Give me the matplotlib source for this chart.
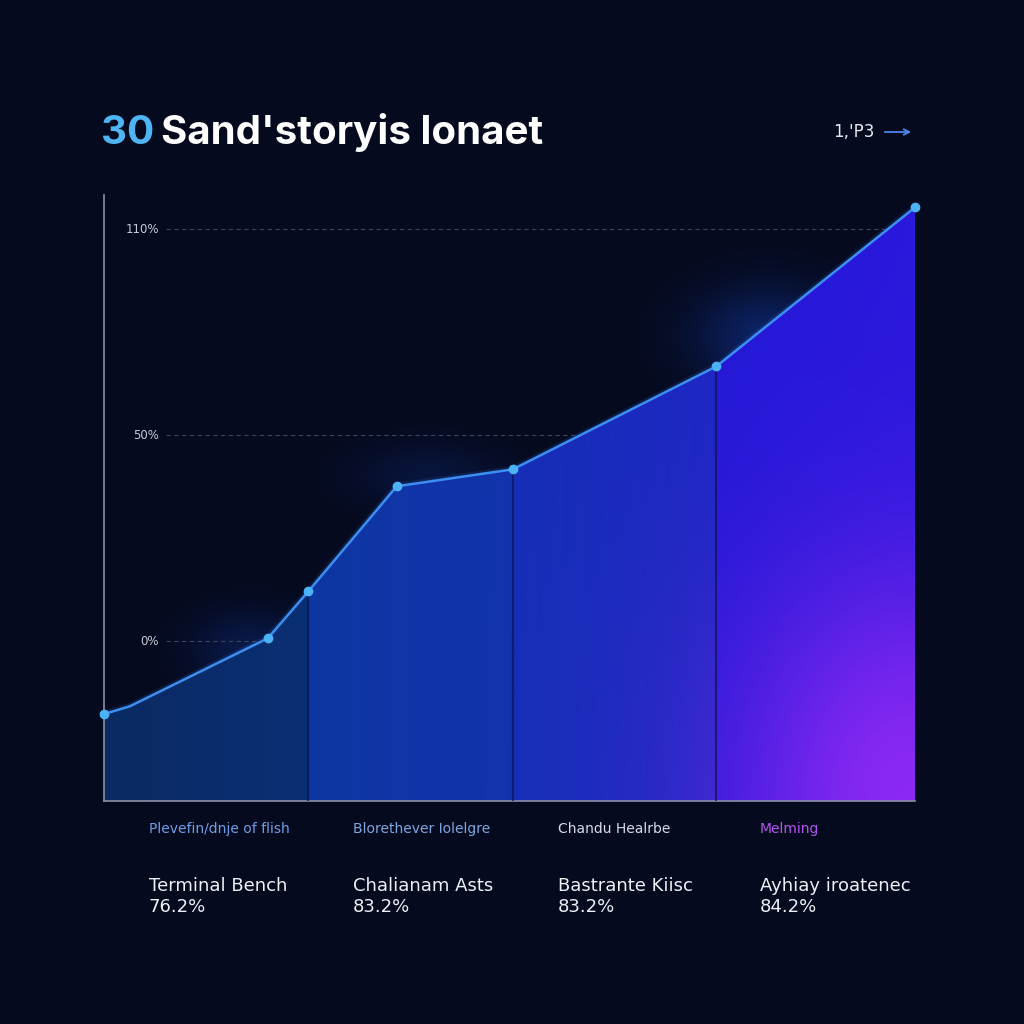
import numpy as np
import matplotlib.pyplot as plt
from matplotlib.colors import to_rgb
from matplotlib.patches import Polygon

# --- Data ---
x_vals = [0, 3.2, 20.2, 25.2, 36.1, 50.4, 75.5, 100]
y_vals = [-17.7, -15.8, 0.7, 12.1, 37.6, 41.7, 66.7, 105.3]
marker_idx = [0, 2, 3, 4, 5, 6, 7]
dividers = [25.2, 50.4, 75.5]

ytick_pos = [0, 50, 100]
ytick_labels = ["0%", "50%", "110%"]

title_num = "30"
title_rest = "Sand'storyis lonaet"
corner_text = "1,'P3"

categories = ["Plevefin/dnje of flish", "Blorethever Iolelgre", "Chandu Healrbe", "Melming"]
cat_colors = ["#6f9ee6", "#7fa6e0", "#d8dbe6", "#b455ee"]
names = ["Terminal Bench", "Chalianam Asts", "Bastrante Kiisc", "Ayhiay iroatenec"]
scores = ["76.2%", "83.2%", "83.2%", "84.2%"]

BG = "#050a1e"
YMIN, YMAX = -38.8, 108.3

fig = plt.figure(figsize=(10.24, 10.24), dpi=100, facecolor=BG)
ax = fig.add_axes([104 / 1024, 1 - 801 / 1024, 811 / 1024, 606 / 1024])
ax.set_facecolor(BG)
ax.set_xlim(0, 100)
ax.set_ylim(YMIN, YMAX)

nx, ny = 600, 400
gx = np.linspace(0, 100, nx)
gy = np.linspace(YMIN, YMAX, ny)
XX, YY = np.meshgrid(gx, gy)

# soft blue halo behind the curve
halo = np.zeros((ny, nx, 4))
halo[..., :3] = to_rgb("#1a50e8")
ha = 0.35 * np.exp(-(((XX - 82) / 9) ** 2 + ((YY - 74) / 12) ** 2))
ha += 0.22 * np.exp(-(((XX - 18) / 7) ** 2 + ((YY + 2) / 9) ** 2))
ha += 0.15 * np.exp(-(((XX - 40) / 9) ** 2 + ((YY - 40) / 8) ** 2))
halo[..., 3] = np.clip(ha, 0, 1)
ax.imshow(halo, extent=[0, 100, YMIN, YMAX], origin="lower", aspect="auto", zorder=0.5)

# --- gradient fill under the curve ---
stops = [(0, "#0a2a62"), (25.1, "#0b2f74"), (25.3, "#0e37a2"), (50.3, "#1233ac"),
         (50.5, "#162fb6"), (75.4, "#1d27c4"), (75.6, "#2419d6"), (100, "#2a18dc")]
sx = np.array([s[0] for s in stops])
sc = np.array([to_rgb(s[1]) for s in stops])
base = np.stack([np.interp(gx, sx, sc[:, k]) for k in range(3)], axis=-1)
img = np.repeat(base[None, :, :], ny, axis=0)
d = np.sqrt(((XX - 100) / 24) ** 2 + ((YY - YMIN) / 60) ** 2)
w = np.exp(-d ** 2 * 1.1)[..., None] * 0.85
purple = np.array(to_rgb("#9d2cf8"))
img = img * (1 - w) + purple * w

im = ax.imshow(img, extent=[0, 100, YMIN, YMAX], origin="lower", aspect="auto", zorder=2)
poly = Polygon(list(zip(x_vals, y_vals)) + [(100, YMIN), (0, YMIN)], closed=True,
               facecolor="none", edgecolor="none")
ax.add_patch(poly)
im.set_clip_path(poly)

# dividers
for xd in dividers:
    ax.vlines(xd, YMIN, np.interp(xd, x_vals, y_vals), color="#0a1650", lw=1.5, alpha=0.7, zorder=3)

# gridlines (hidden behind the fill)
for yp in ytick_pos:
    ax.hlines(yp, 7.6, 100, color="#3c4258", lw=0.8, linestyles=(0, (4, 3)), zorder=1)
for yp, lab in zip(ytick_pos, ytick_labels):
    ax.text(6.8, yp, lab, color="#c8cbd6", fontsize=8.5, ha="right", va="center", zorder=4)

# curve with glow
ax.plot(x_vals, y_vals, color="#2f7df0", lw=5, alpha=0.15, zorder=1.5, solid_capstyle="round")
ax.plot(x_vals, y_vals, color="#3d8ef2", lw=1.8, zorder=5)
ax.plot([x_vals[i] for i in marker_idx], [y_vals[i] for i in marker_idx], "o",
        color="#4cb2f6", ms=6, zorder=6, clip_on=False)

for s in ["top", "right"]:
    ax.spines[s].set_visible(False)
for s in ["left", "bottom"]:
    ax.spines[s].set_color("#8c90a6")
    ax.spines[s].set_linewidth(1.2)
ax.set_xticks([])
ax.set_yticks([])

# --- title ---
t1 = fig.text(101 / 1024, 1 - 133 / 1024, title_num, color="#4fb4f2", fontsize=29,
              fontweight="bold", family="Inter", va="center")
ax.annotate(title_rest, xy=(1, 0.5), xycoords=t1, xytext=(5, 0), textcoords="offset points",
            color="white", fontsize=29, fontweight="bold", family="Inter", va="center",
            annotation_clip=False)

fig.text(833 / 1024, 1 - 132 / 1024, corner_text, color="#e8e8f0", fontsize=12, va="center")
ax.annotate("", xy=(914 / 1024, 1 - 132 / 1024), xytext=(882 / 1024, 1 - 132 / 1024),
            xycoords="figure fraction", textcoords="figure fraction",
            arrowprops=dict(arrowstyle="->", color="#4a86ee", lw=1.3), annotation_clip=False)

# --- bottom labels ---
col_x = [149, 353, 558, 760]
for cx, cat, cc, nm, sv in zip(col_x, categories, cat_colors, names, scores):
    fig.text(cx / 1024, 1 - 829 / 1024, cat, color=cc, fontsize=10, va="center")
    fig.text(cx / 1024, 1 - 886 / 1024, nm, color="#eef0f6", fontsize=13, va="center")
    fig.text(cx / 1024, 1 - 907 / 1024, sv, color="#eef0f6", fontsize=13, va="center")

fig.savefig("out.png", dpi=100, facecolor=BG)
